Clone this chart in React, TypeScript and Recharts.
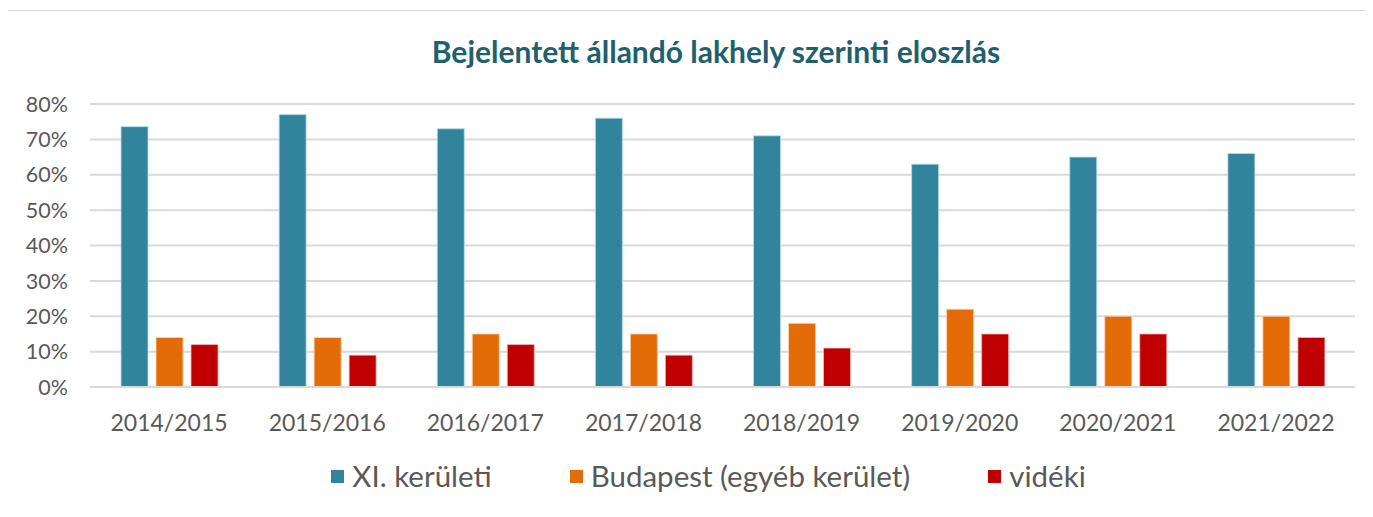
import React from 'react';
import { BarChart, Bar, XAxis, YAxis, CartesianGrid, Legend } from 'recharts';

const categories = ['2014/2015', '2015/2016', '2016/2017', '2017/2018', '2018/2019', '2019/2020', '2020/2021', '2021/2022'];
const keruleti = [73.6, 77, 73, 76, 71, 63, 65, 66];
const budapest = [14, 14, 15, 15, 18, 22, 20, 20];
const videki = [12, 9, 12, 9, 11, 15, 15, 14];
const yTicks = [0, 10, 20, 30, 40, 50, 60, 70, 80];
const seriesNames = ['XI. kerületi', 'Budapest (egyéb kerület)', 'vidéki'];
const seriesColors = ['#31849b', '#e36c09', '#c00000'];

const data = categories.map((c, i) => ({ cat: c, a: keruleti[i], b: budapest[i], c: videki[i] }));

const FONT = 'Lato, "Open Sans", sans-serif';

const renderLegend = () => (
  <div style={{ display: 'flex', justifyContent: 'center', alignItems: 'center', fontFamily: FONT }}>
    {seriesNames.map((n, i) => (
      <div key={i} style={{ display: 'flex', alignItems: 'center', marginRight: i < seriesNames.length - 1 ? 78 : 0 }}>
        <span style={{ display: 'inline-block', width: 13, height: 13, background: seriesColors[i], marginRight: 8 }} />
        <span style={{ color: '#595959', fontSize: 29.5, lineHeight: '36px' }}>{n}</span>
      </div>
    ))}
  </div>
);

export default function App() {
  return (
    <div style={{ position: 'relative', width: 1366, height: 520, marginLeft: -2, marginTop: 2, border: '1px solid #d9d9d9', boxSizing: 'border-box', background: '#fff' }}>
      <div style={{ position: 'absolute', top: 22, left: 0, width: 1418, textAlign: 'center', fontFamily: FONT, fontWeight: 700, fontSize: 30, color: '#215f6e' }}>
        Bejelentett állandó lakhely szerinti eloszlás
      </div>
      <div style={{ position: 'absolute', left: 0, top: 0 }}>
        <BarChart width={1364} height={510} data={data} margin={{ top: 93, right: 16, left: 0, bottom: 68 }} barSize={27} barGap={8}>
          <CartesianGrid vertical={false} stroke="#d9d9d9" strokeWidth={2} />
          <XAxis dataKey="cat" tickLine={false} axisLine={{ stroke: '#d9d9d9', strokeWidth: 2 }} tick={{ fill: '#595959', fontSize: 23, fontFamily: FONT }} tickSize={0} tickMargin={28} interval={0} />
          <YAxis width={83} domain={[0, 80]} ticks={yTicks} tickFormatter={(v: number) => `${v}%`} axisLine={false} tickLine={false} tickSize={0} tickMargin={22} tick={{ fill: '#595959', fontSize: 21.5, fontFamily: FONT }} interval={0} />
          <Legend content={renderLegend} verticalAlign="bottom" wrapperStyle={{ top: 447, left: 69, width: 1265 }} />
          <Bar dataKey="a" name={seriesNames[0]} fill={seriesColors[0]} stroke="#b7dde8" strokeWidth={0.8} isAnimationActive={false} />
          <Bar dataKey="b" name={seriesNames[1]} fill={seriesColors[1]} stroke="#fbd4b4" strokeWidth={0.8} isAnimationActive={false} />
          <Bar dataKey="c" name={seriesNames[2]} fill={seriesColors[2]} stroke="#f2b8b8" strokeWidth={0.8} isAnimationActive={false} />
        </BarChart>
      </div>
    </div>
  );
}
